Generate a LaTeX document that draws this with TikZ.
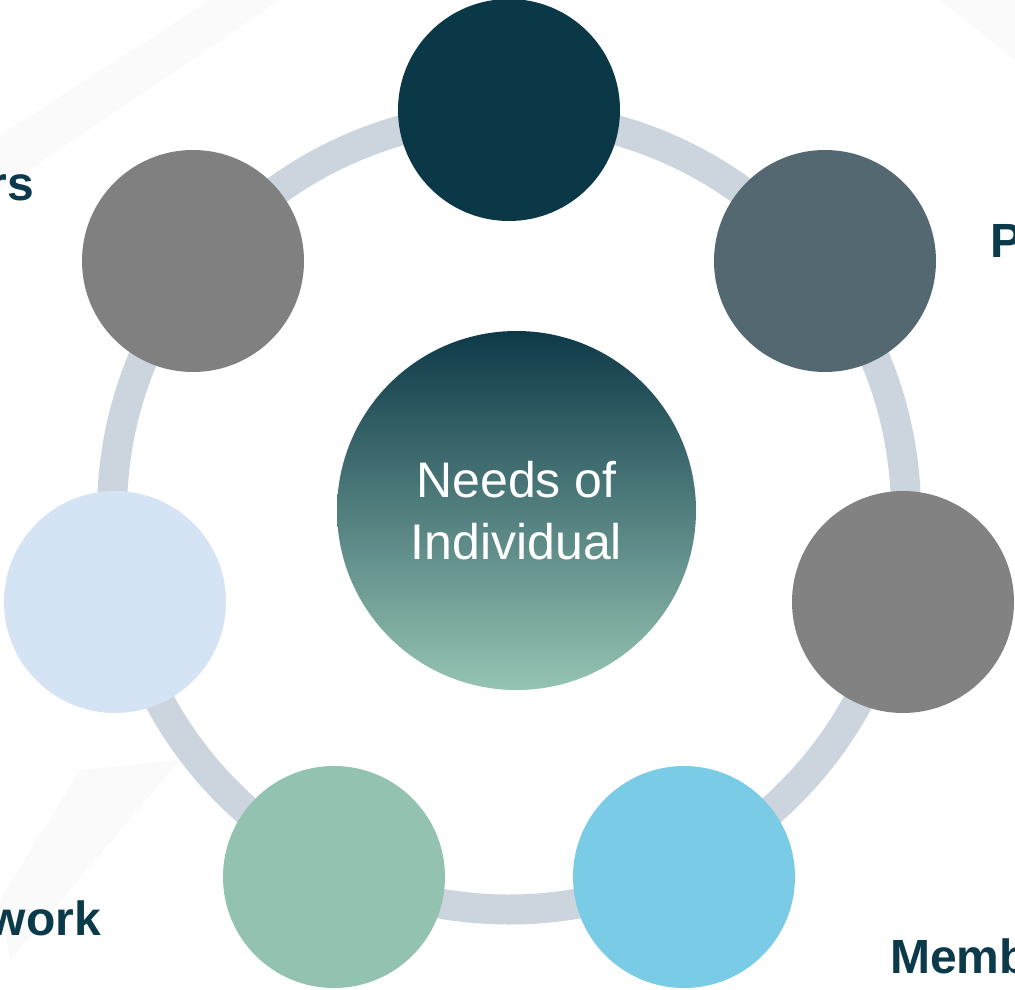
\documentclass[tikz,border=0pt]{standalone}
\usepackage{fontspec}
\setmainfont{Liberation Sans}
\definecolor{ringc}{HTML}{CCD4DE}
\definecolor{cA}{HTML}{0B3846}
\definecolor{cB}{HTML}{546872}
\definecolor{cC}{HTML}{828282}
\definecolor{cD}{HTML}{7ACBE5}
\definecolor{cE}{HTML}{93C2B1}
\definecolor{cF}{HTML}{D5E4F4}
\definecolor{cG}{HTML}{808080}
\definecolor{labc}{HTML}{0B3A4B}
\definecolor{gradtop}{HTML}{0E3948}
\definecolor{gradbot}{HTML}{95C4B3}
\definecolor{faint}{HTML}{FAFAFA}
\tikzset{
  bubble/.style={circle, minimum size=222pt, inner sep=0pt, draw=none},
  lab/.style={text=labc, font=\fontsize{48}{54}\selectfont\bfseries, inner sep=0pt},
}
\begin{document}
\begin{tikzpicture}[x=1pt,y=-1pt]
\useasboundingbox (0,0) rectangle (1015,990);
\clip (0,0) rectangle (1015,990);
\fill[white] (0,0) rectangle (1015,990);
% faint background bands
\fill[faint] (0,135) -- (210,0) -- (280,0) -- (0,190) -- cycle;
\fill[faint] (940,0) -- (1015,0) -- (1015,60) -- cycle;
\fill[faint] (80,770) -- (180,760) -- (10,960) -- (0,900) -- cycle;
% ring
\coordinate (ctr) at (509,512.5);
\draw[ringc, line width=30pt] (ctr) circle (397);
% outer bubbles
\node[bubble, fill=cA] (n1) at (509,110) {};
\node[bubble, fill=cB] (n2) at (825,261) {};
\node[bubble, fill=cC] (n3) at (903,602) {};
\node[bubble, fill=cD] (n4) at (684,877) {};
\node[bubble, fill=cE] (n5) at (334,877) {};
\node[bubble, fill=cF] (n6) at (115,602) {};
\node[bubble, fill=cG] (n7) at (193,261) {};
% center
\shade[top color=gradtop, bottom color=gradbot] (516.5,510.5) circle (179.5);
\node[circle, minimum size=359pt, inner sep=0pt, align=center, text=white,
      font=\fontsize{50}{62}\selectfont] (core) at (516.5,510.5) {Needs of\\Individual};
% labels (cut off at the page edge, as in the reference)
\node[lab, anchor=base east] (l7) at (34,200) {rs};
\node[lab, anchor=base west] (l2) at (990,257) {P};
\node[lab, anchor=base east] (l5) at (101,935) {work};
\node[lab, anchor=base west] (l4) at (890,973) {Memb};
\end{tikzpicture}
\end{document}
